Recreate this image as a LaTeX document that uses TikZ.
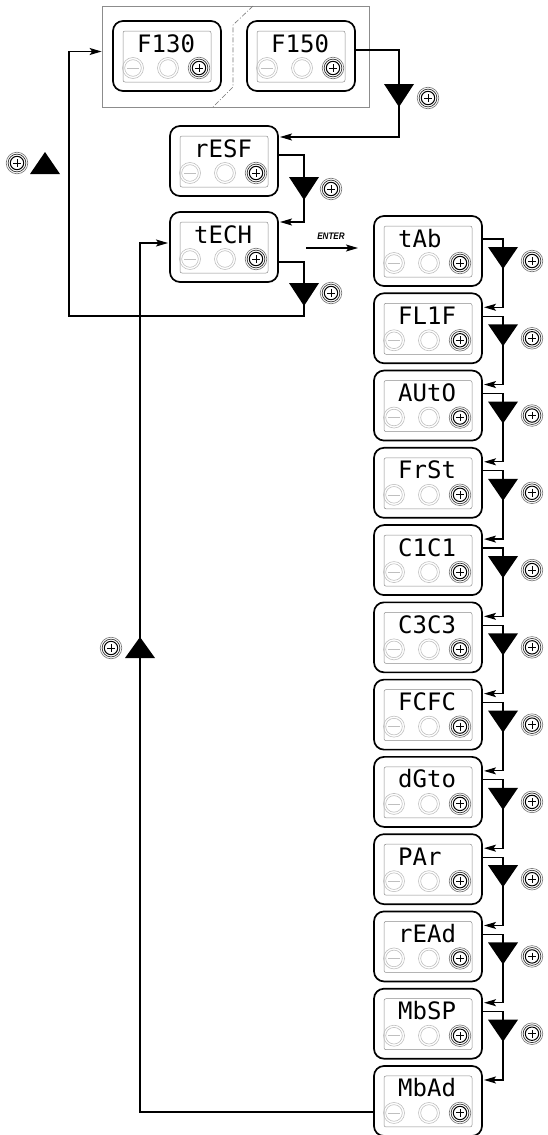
\documentclass[tikz,border=0pt]{standalone}
\usepackage{fontspec}
\setmainfont{Liberation Sans}
\newfontfamily\seg{DejaVu Sans Mono}
\usetikzlibrary{arrows.meta,calc}
\tikzset{
  unitbox/.style={draw, line width=1.7pt, rounded corners=10pt, minimum width=108pt, minimum height=70pt, inner sep=0pt, outer sep=0pt},
  disp/.style={draw=black!45, line width=0.5pt, rounded corners=2pt},
  segtext/.style={font=\seg\fontsize{24}{24}\selectfont, inner sep=0pt, anchor=base west},
  conn/.style={line width=1.2pt},
  arr/.style={-{Stealth[length=12pt,width=7pt,inset=2.5pt]}},
  greybox/.style={draw=black!45, line width=0.8pt, minimum width=267pt, minimum height=101pt, inner sep=0pt},
  sepline/.style={draw=black!55, line width=0.6pt, dash pattern=on 5pt off 2pt on 1pt off 2pt},
  entertext/.style={font=\bfseries\itshape\fontsize{9.5}{9.5}\selectfont, xscale=0.85, inner sep=0pt},
  plusbtn/.pic={
    \draw[black!55, line width=0.6pt] (0,0) circle (10.8pt);
    \draw[black!80, line width=0.7pt] (0,0) circle (8.9pt);
    \draw[black, line width=1pt] (0,0) circle (6.7pt);
    \draw[black, line width=1pt] (-3.9,0) -- (3.9,0) (0,-3.9) -- (0,3.9);
  },
  minusbtn/.pic={
    \draw[black!25, line width=0.6pt] (0,0) circle (10.5pt);
    \draw[black!25, line width=0.6pt] (0,0) circle (8.3pt);
    \draw[black!25, line width=0.6pt] (-6,0) -- (6,0);
  },
  midbtn/.pic={
    \draw[black!25, line width=0.6pt] (0,0) circle (10.5pt);
    \draw[black!25, line width=0.6pt] (0,0) circle (8.3pt);
  },
}
\newcommand\dispunit[4]{%
  \node[unitbox, anchor=north west] (#1) at (#2,#3) {};
  \draw[disp] ($(#1.north west)+(10,10)$) rectangle ($(#1.south east)+(-10,-9)$);
  \node[segtext] (#1t) at ($(#1.north west)+(24,31)$) {#4};
  \pic at ($(#1.north west)+(20,47)$) {minusbtn};
  \pic at ($(#1.north west)+(55,47)$) {midbtn};
  \pic at ($(#1.north west)+(86,47)$) {plusbtn};
}
\begin{document}
\begin{tikzpicture}[x=1pt,y=-1pt]
\useasboundingbox (0,0) rectangle (547,1135);
% top group
\node[greybox] (grp) at (235.5,56.5) {};
\draw[sepline] (253,6) -- (233,25) -- (233,87) -- (213,107);
\dispunit{f130}{113}{21}{F130}
\dispunit{f150}{247}{21}{F150}
\dispunit{resf}{170}{126}{rESF}
\dispunit{tech}{170}{212}{tECH}
% right column
\foreach \t [count=\i from 0] in {tAb,FL1F,AUtO,FrSt,C1C1,C3C3,FCFC,dGto,PAr,rEAd,MbSP,MbAd} {
  \pgfmathsetmacro\yy{216+77.27*\i}
  \dispunit{u\i}{374}{\yy}{\t}
}
\foreach \i in {0,...,10} {
  \pgfmathtruncatemacro\j{\i+1}
  \draw[conn,arr] ($(u\i.north east)+(0,23)$) -- ++(21,0) |- ($(u\j.north east)+(2,14)$);
  \fill ($(u\i.north east)+(6,31)$) -- ++(30,0) -- ++(-15,22) -- cycle;
  \pic at ($(u\i.north east)+(50,45)$) {plusbtn};
}
% F150 -> rESF
\draw[conn,arr] ($(f150.north east)+(0,29)$) -- ++(44,0) |- ($(resf.north east)+(2,11)$);
\fill (384,84) -- (414,84) -- (399,107) -- cycle;
\pic at (428,98) {plusbtn};
% rESF -> tECH
\draw[conn,arr] ($(resf.north east)+(0,29)$) -- ++(26,0) |- ($(tech.north east)+(2,10)$);
\fill (289,177) -- (319,177) -- (304,200) -- cycle;
\pic at (331,189) {plusbtn};
% tECH -> back to top group
\draw[conn,arr] ($(tech.north east)+(0,50)$) -- ++(26,0) |- (69,316) |- ($(grp.west)+(0,-5)$);
\fill (289,283) -- (319,283) -- (304,306) -- cycle;
\pic at (331,293) {plusbtn};
% left up marker
\fill (30,174) -- (60,174) -- (45,152) -- cycle;
\pic at (17,163) {plusbtn};
% ENTER
\node[entertext] (ent) at (331,236) {ENTER};
\coordinate (e1) at (306,248);
\coordinate (e2) at (358,248);
\draw[conn,arr] (e1) -- (e2);
% return from MbAd to tECH
\draw[conn,arr] ($(u11.north west)+(0,46)$) -| ($(tech.west)+(-30,-4)$) -- ($(tech.west)+(-2,-4)$);
\fill (125,658) -- (155,658) -- (140,637) -- cycle;
\pic at (111,648) {plusbtn};
\end{tikzpicture}
\end{document}
